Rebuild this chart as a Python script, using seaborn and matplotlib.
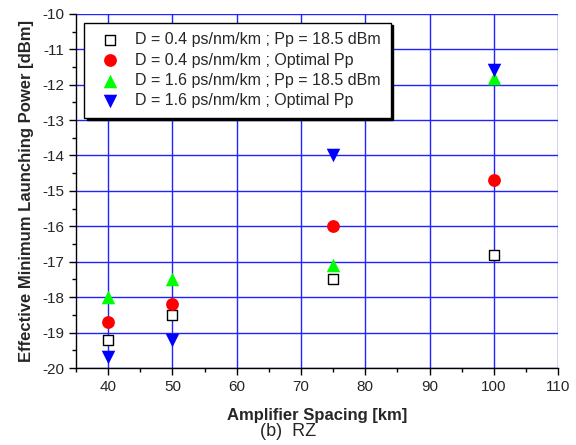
import numpy as np
import pandas as pd
import seaborn as sns
import matplotlib.pyplot as plt
from matplotlib.ticker import MultipleLocator

spacing = [40, 50, 75, 100]
d04_fixed = [-19.2, -18.5, -17.5, -16.8]
d04_opt = [-18.7, -18.2, -16.0, -14.7]
d16_fixed = [-18.0, -17.5, -17.1, -11.8]
d16_opt = [-19.7, -19.2, -14.0, -11.6]

labels = ['D = 0.4 ps/nm/km ; Pp = 18.5 dBm',
          'D = 0.4 ps/nm/km ; Optimal Pp',
          'D = 1.6 ps/nm/km ; Pp = 18.5 dBm',
          'D = 1.6 ps/nm/km ; Optimal Pp']

sns.set_style('ticks')
plt.rcParams['font.family'] = ['Liberation Sans', 'DejaVu Sans']
plt.rcParams['axes.unicode_minus'] = False

fig = plt.figure(figsize=(5.76, 4.45), dpi=100)
ax = fig.add_axes([0.132, 0.173, 0.837, 0.796])

styles = [
    dict(marker='s', color='white', edgecolor='black', linewidth=1.0, s=55),
    dict(marker='o', color='red', edgecolor='red', linewidth=0, s=85),
    dict(marker='^', color='#00ff00', edgecolor='#00ff00', linewidth=0, s=95),
    dict(marker='v', color='blue', edgecolor='blue', linewidth=0, s=95),
]
for vals, lab, st in zip([d04_fixed, d04_opt, d16_fixed, d16_opt], labels, styles):
    df = pd.DataFrame({'x': spacing, 'y': vals})
    sns.scatterplot(data=df, x='x', y='y', ax=ax, label=lab, zorder=3, **st)

ax.set_xlim(35, 110)
ax.set_ylim(-20, -10)
ax.xaxis.set_major_locator(MultipleLocator(10))
ax.xaxis.set_minor_locator(MultipleLocator(5))
ax.yaxis.set_major_locator(MultipleLocator(1))
ax.yaxis.set_minor_locator(MultipleLocator(0.5))
ax.grid(True, which='major', color='#2222ff', linewidth=1.0, zorder=0)
ax.set_axisbelow(True)
for s in ['top', 'right']:
    ax.spines[s].set_visible(False)
for s in ['left', 'bottom']:
    ax.spines[s].set_color('black')
    ax.spines[s].set_linewidth(1.0)
ax.tick_params(which='major', direction='out', length=5, width=1, labelsize=11, color='black')
ax.tick_params(which='minor', direction='out', length=3, width=1, color='black')

ax.set_xlabel('Amplifier Spacing [km]', fontsize=12, fontweight='bold', labelpad=10)
ax.set_ylabel('Effective Minimum Launching Power [dBm]', fontsize=12, fontweight='bold', labelpad=6)

leg = ax.legend(loc='upper left', bbox_to_anchor=(0.017, 0.975), fontsize=11.5,
                frameon=True, fancybox=False, shadow={'color': 'black', 'alpha': 1},
                borderpad=0.6, labelspacing=0.33, handletextpad=0.6, borderaxespad=0)
leg.get_frame().set_edgecolor('black')
leg.get_frame().set_linewidth(1.0)

fig.text(0.5, 0.012, '(b)  RZ', ha='center', va='bottom', fontsize=13, fontweight='light')

fig.savefig('out.png', dpi=100)
